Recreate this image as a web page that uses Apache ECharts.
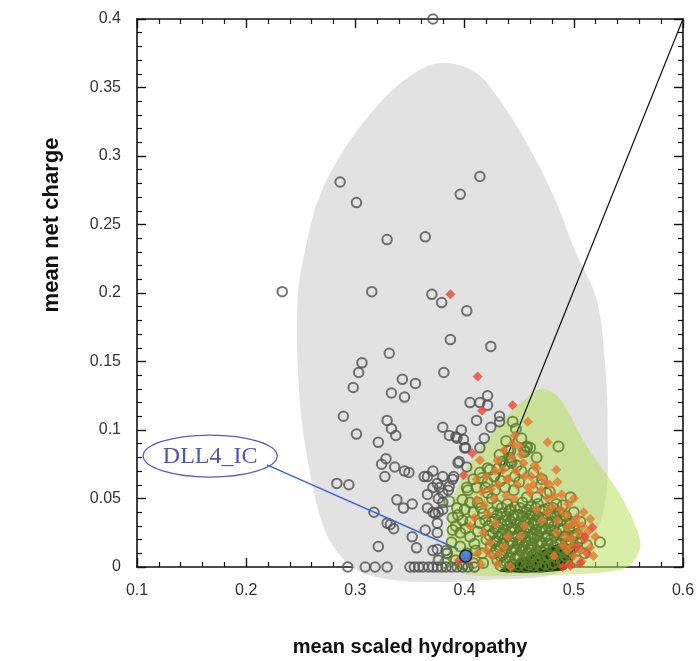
<!DOCTYPE html>
<html>
<head>
<meta charset="utf-8">
<script src="https://cdn.jsdelivr.net/npm/echarts@6/dist/echarts.min.js"></script>
<style>html,body{margin:0;padding:0;background:#fff}#c{width:700px;height:661px}</style>
</head>
<body>
<div id="c"></div>
<script>
// ---------- DATA ----------
const xTitle = 'mean scaled hydropathy';
const yTitle = 'mean net charge';
const annotationLabel = 'DLL4_IC';

// gray open circles [hydropathy, charge]
const grayPts = [
[0.371,0.400],[0.233,0.201],[0.286,0.281],[0.301,0.266],[0.329,0.239],[0.364,0.241],[0.315,0.201],[0.370,0.199],
[0.379,0.193],[0.414,0.285],[0.396,0.272],[0.402,0.187],[0.387,0.166],[0.424,0.161],[0.331,0.156],[0.306,0.149],
[0.303,0.142],[0.343,0.137],[0.355,0.134],[0.298,0.131],[0.333,0.127],[0.345,0.124],[0.381,0.142],[0.405,0.120],
[0.411,0.107],[0.289,0.110],[0.329,0.107],[0.333,0.101],[0.337,0.096],[0.301,0.097],[0.321,0.091],[0.380,0.102],
[0.386,0.096],[0.397,0.100],[0.392,0.095],[0.399,0.093],[0.400,0.087],[0.328,0.079],[0.324,0.075],[0.336,0.073],
[0.345,0.070],[0.349,0.069],[0.327,0.066],[0.363,0.066],[0.371,0.070],[0.375,0.061],[0.380,0.054],[0.386,0.059],
[0.390,0.066],[0.394,0.076],[0.283,0.061],[0.294,0.060],[0.366,0.053],[0.338,0.049],[0.344,0.043],[0.352,0.046],
[0.371,0.040],[0.376,0.040],[0.380,0.047],[0.317,0.040],[0.329,0.032],[0.332,0.031],[0.335,0.028],[0.375,0.032],
[0.375,0.025],[0.352,0.022],[0.356,0.014],[0.321,0.015],[0.375,0.013],[0.383,0.012],[0.421,0.125],[0.414,0.120],
[0.421,0.118],[0.432,0.110],[0.432,0.106],[0.393,0.094],[0.424,0.102],[0.418,0.094],[0.414,0.087],[0.395,0.077],
[0.402,0.073],[0.366,0.066],[0.380,0.066],[0.389,0.064],[0.371,0.058],[0.377,0.058],[0.385,0.056],[0.376,0.050],
[0.366,0.043],[0.373,0.039],[0.380,0.042],[0.364,0.027],[0.371,0.012],[0.376,0.005],[0.384,0.010],[0.401,0.087],
[0.293,0.000],[0.309,0.000],[0.318,0.000],[0.329,0.000],[0.350,0.000],[0.354,0.000],[0.358,0.000],[0.362,0.000],
[0.367,0.000],[0.371,0.000],[0.375,0.000],[0.379,0.000],[0.383,0.000],[0.388,0.000],[0.393,0.000],[0.398,0.000],
[0.403,0.000],[0.409,0.000]
];

// olive-green open circles
const greenPts = [
[0.444,0.106],[0.486,0.088],[0.457,0.088],[0.455,0.085],[0.460,0.087],[0.442,0.085],[0.441,0.080],[0.443,0.076],
[0.437,0.074],[0.448,0.074],[0.463,0.069],[0.471,0.064],[0.497,0.051],[0.475,0.054],[0.466,0.051],[0.457,0.051],
[0.512,0.016],[0.489,0.004],[0.524,0.018],[0.432,0.082],[0.440,0.085],[0.442,0.077],[0.435,0.077],[0.423,0.071],
[0.431,0.072],[0.416,0.065],[0.421,0.062],[0.403,0.056],[0.411,0.058],[0.421,0.054],[0.428,0.056],[0.398,0.049],
[0.405,0.047],[0.412,0.047],[0.393,0.043],[0.400,0.042],[0.408,0.040],[0.417,0.039],[0.389,0.036],[0.398,0.034],
[0.405,0.033],[0.414,0.032],[0.389,0.027],[0.396,0.025],[0.405,0.022],[0.412,0.026],[0.388,0.018],[0.396,0.015],
[0.402,0.010],[0.410,0.012],[0.384,0.010],[0.408,0.003],[0.417,0.003],[0.382,0.003],[0.414,0.069],[0.421,0.072],
[0.402,0.058],[0.408,0.064],[0.457,0.087],[0.455,0.084],
[0.430,0.045],[0.439,0.046],[0.446,0.044],[0.453,0.047],[0.461,0.044],[0.467,0.046],[0.477,0.043],[0.484,0.046],
[0.426,0.040],[0.433,0.039],[0.441,0.041],[0.449,0.038],[0.456,0.040],[0.462,0.039],[0.471,0.041],[0.479,0.038],[0.487,0.040],[0.493,0.037],
[0.428,0.035],[0.437,0.034],[0.444,0.036],[0.451,0.033],[0.458,0.035],[0.465,0.034],[0.472,0.036],[0.480,0.033],[0.488,0.034],[0.497,0.032],
[0.422,0.030],[0.431,0.029],[0.439,0.031],[0.446,0.028],[0.453,0.030],[0.459,0.029],[0.467,0.031],[0.474,0.028],[0.482,0.030],[0.490,0.027],[0.500,0.029],
[0.426,0.025],[0.434,0.024],[0.442,0.026],[0.448,0.023],[0.455,0.025],[0.462,0.024],[0.469,0.026],[0.476,0.023],[0.484,0.025],[0.493,0.022],[0.503,0.024],
[0.420,0.020],[0.429,0.019],[0.437,0.021],[0.444,0.018],[0.451,0.020],[0.458,0.019],[0.464,0.021],[0.471,0.018],[0.479,0.020],[0.488,0.017],[0.497,0.019],[0.507,0.021],
[0.424,0.015],[0.432,0.014],[0.440,0.016],[0.447,0.013],[0.454,0.015],[0.461,0.014],[0.467,0.016],[0.474,0.013],[0.482,0.015],[0.491,0.012],[0.500,0.014],
[0.427,0.010],[0.435,0.009],[0.443,0.011],[0.450,0.008],[0.457,0.010],[0.463,0.009],[0.470,0.011],[0.477,0.008],[0.486,0.010],[0.494,0.007],
[0.430,0.005],[0.438,0.004],[0.446,0.006],[0.452,0.003],[0.459,0.005],[0.466,0.004],[0.473,0.006],[0.481,0.003],[0.490,0.005],
[0.433,0.001],[0.441,0.000],[0.449,0.001],[0.456,0.000],[0.463,0.001],[0.470,0.000],[0.478,0.001],
[0.434,0.043],[0.442,0.042],[0.451,0.043],[0.457,0.042],[0.465,0.043],[0.473,0.042],[0.481,0.043],
[0.430,0.038],[0.438,0.037],[0.445,0.038],[0.453,0.037],[0.460,0.038],[0.467,0.037],[0.476,0.038],[0.483,0.037],[0.490,0.038],
[0.425,0.033],[0.433,0.032],[0.442,0.033],[0.448,0.032],[0.455,0.033],[0.463,0.032],[0.470,0.033],[0.477,0.032],[0.485,0.033],[0.494,0.032],
[0.428,0.028],[0.436,0.027],[0.443,0.028],[0.451,0.027],[0.457,0.028],[0.465,0.027],[0.471,0.028],[0.479,0.027],[0.487,0.028],[0.496,0.027],
[0.423,0.023],[0.431,0.022],[0.439,0.023],[0.446,0.022],[0.453,0.023],[0.460,0.022],[0.467,0.023],[0.474,0.022],[0.482,0.023],[0.490,0.022],[0.500,0.023],
[0.427,0.018],[0.435,0.017],[0.442,0.018],[0.449,0.017],[0.456,0.018],[0.462,0.017],[0.469,0.018],[0.476,0.017],[0.484,0.018],[0.493,0.017],[0.503,0.018],
[0.429,0.013],[0.437,0.012],[0.445,0.013],[0.452,0.012],[0.459,0.013],[0.466,0.012],[0.473,0.013],[0.480,0.012],[0.489,0.013],[0.497,0.012],
[0.433,0.008],[0.441,0.007],[0.448,0.008],[0.455,0.007],[0.462,0.008],[0.469,0.007],[0.476,0.008],[0.484,0.007],[0.492,0.008],
[0.436,0.003],[0.444,0.002],[0.452,0.003],[0.459,0.002],[0.466,0.003],[0.474,0.002],[0.482,0.003],
[0.425,0.050],[0.419,0.058],[0.427,0.066],[0.433,0.063],[0.437,0.058],[0.445,0.056],[0.450,0.062],[0.452,0.070],
[0.446,0.066],[0.392,0.030],[0.394,0.038],[0.401,0.028],[0.409,0.017],[0.416,0.010],[0.419,0.034],[0.415,0.043],
[0.392,0.005],[0.399,0.002],[0.386,0.048],[0.447,0.101],[0.452,0.094],[0.438,0.092],[0.466,0.080],[0.470,0.060],
[0.478,0.055],[0.490,0.045],[0.500,0.040],[0.506,0.033],[0.510,0.010],[0.503,0.005],[0.496,0.010]
];

// orange diamonds
const orangePts = [
[0.458,0.106],[0.446,0.096],[0.476,0.091],[0.464,0.074],[0.484,0.071],[0.485,0.062],[0.489,0.053],[0.499,0.032],
[0.452,0.082],[0.447,0.070],[0.455,0.066],[0.440,0.064],[0.448,0.060],[0.414,0.078],[0.430,0.078],[0.435,0.071],
[0.439,0.064],[0.411,0.064],[0.411,0.049],[0.421,0.039],[0.417,0.025],[0.412,0.010],[0.432,0.010],[0.442,0.000],
[0.451,0.022],[0.460,0.054],[0.466,0.042],[0.485,0.034],[0.494,0.029],[0.458,0.058],[0.463,0.060],[0.470,0.056],
[0.476,0.050],[0.480,0.044],[0.488,0.042],[0.493,0.038],[0.503,0.036],[0.508,0.030],[0.504,0.025],
[0.510,0.020],[0.513,0.026],[0.498,0.021],[0.506,0.012],[0.500,0.008],[0.494,0.012],[0.515,0.014],
[0.445,0.050],[0.438,0.052],[0.427,0.050],[0.424,0.057],[0.431,0.060],
[0.428,0.032],[0.423,0.018],[0.425,0.008],[0.436,0.015],
[0.484,0.025],[0.490,0.016],[0.482,0.008],[0.418,0.045],[0.416,0.055],
[0.404,0.006],[0.415,0.002],[0.470,0.066],[0.478,0.060],[0.466,0.072],[0.450,0.088],[0.444,0.090],[0.503,0.032],
[0.507,0.004],[0.496,0.002],
[0.515,0.035],[0.520,0.022],[0.518,0.008],[0.509,0.040],[0.495,0.046],[0.500,0.050],[0.482,0.052],[0.474,0.062],
[0.461,0.066],[0.454,0.076],[0.443,0.080],[0.436,0.085],[0.428,0.070],[0.420,0.066],
[0.440,0.022],[0.455,0.030],[0.471,0.034],[0.492,0.022],
[0.498,0.015],[0.405,0.030],[0.409,0.036],[0.420,0.012],[0.430,0.002],[0.476,0.040]
];

// red diamonds
const redPts = [
[0.387,0.199],[0.412,0.139],[0.416,0.114],[0.444,0.118],[0.407,0.083],[0.399,0.067],[0.517,0.029],[0.510,0.022],
[0.503,0.015],[0.512,0.010],[0.506,0.003],[0.497,0.001],[0.490,0.000],[0.395,0.005]
];

// highlighted protein
const dll4Pt = [[0.401,0.008]];

// boundary line
const boundaryLine = [[0.43,0.063],[0.6,0.4]];

// shaded regions (outline points)
const grayRegion = [
[0.380,0.368],[0.410,0.361],[0.432,0.341],[0.460,0.305],[0.483,0.268],[0.501,0.231],[0.521,0.195],[0.529,0.144],
[0.531,0.100],[0.529,0.049],[0.515,0.016],[0.487,-0.004],[0.432,-0.009],[0.359,-0.011],[0.313,-0.006],[0.290,0.005],
[0.272,0.027],[0.258,0.071],[0.249,0.122],[0.247,0.195],[0.254,0.231],[0.266,0.268],[0.289,0.304],[0.325,0.341],[0.355,0.361]
];
const greenRegion = [
[0.470,0.130],[0.487,0.123],[0.512,0.088],[0.540,0.056],[0.556,0.031],[0.561,0.015],[0.551,0.001],[0.524,-0.004],
[0.469,-0.006],[0.405,-0.006],[0.387,0.001],[0.384,0.020],[0.388,0.045],[0.402,0.073],[0.423,0.096],[0.452,0.120]
];
const darkWedge = [[0.432,-0.003],[0.490,0.018],[0.501,0.013],[0.492,-0.002]];

// annotation anchor points
const labelCenter = [0.167,0.081];
const arrowFrom = [0.219,0.0745];
const arrowTo = [0.394,0.013];

// ---------- CHART ----------
const chart = echarts.init(document.getElementById('c'), null, {renderer:'canvas'});
const font = "'Liberation Sans', Arial, sans-serif";

function regionSeries(pts, fill, z, smooth){
  return {
    type:'custom', z:z, silent:true, clip:false,
    data:[pts[0]],
    renderItem:function(params, api){
      return {type:'polygon', shape:{points:pts.map(p=>api.coord(p)), smooth:smooth},
        style:{fill:fill, stroke:'none'}};
    }
  };
}

const axisCommon = {
  type:'value',
  axisLine:{show:true, onZero:false, lineStyle:{color:'#111', width:1.6}},
  axisTick:{show:true, inside:true, length:9, lineStyle:{color:'#111', width:1.4}},
  minorTick:{show:true, splitNumber:5, length:5, lineStyle:{color:'#111', width:1.2}},
  splitLine:{show:false},
  minorSplitLine:{show:false}
};

const option = {
  animation:false,
  backgroundColor:'#fff',
  grid:{left:137, right:17, top:19, bottom:94},
  xAxis:[
    Object.assign({}, axisCommon, {min:0.1, max:0.6, interval:0.1, position:'bottom',
      axisLabel:{fontSize:16, color:'#333', fontFamily:font, margin:16}}),
    Object.assign({}, axisCommon, {min:0.1, max:0.6, interval:0.1, position:'top', axisLabel:{show:false}})
  ],
  yAxis:[
    Object.assign({}, axisCommon, {min:0, max:0.4, interval:0.05, position:'left',
      axisLabel:{fontSize:16, color:'#333', fontFamily:font, margin:16}}),
    Object.assign({}, axisCommon, {min:0, max:0.4, interval:0.05, position:'right', axisLabel:{show:false}})
  ],
  series:[
    regionSeries(grayRegion, '#e2e2e2', 1, 0.35),
    regionSeries(greenRegion, 'rgba(182,222,85,0.52)', 2, 0.3),
    {type:'line', z:3, data:boundaryLine, symbol:'none', silent:true,
      lineStyle:{color:'#111', width:1.2}},
    {type:'scatter', z:4, data:grayPts, symbol:'circle', symbolSize:9.5,
      itemStyle:{color:'rgba(0,0,0,0)', borderColor:'#505050', borderWidth:2}},
    {type:'scatter', z:5, data:greenPts, symbol:'circle', symbolSize:10,
      itemStyle:{color:'rgba(0,0,0,0)', borderColor:'#5a7b2b', borderWidth:2}},
    regionSeries(darkWedge, '#1f3a0b', 5, 0.2),
    {type:'scatter', z:6, data:orangePts, symbol:'diamond', symbolSize:10,
      itemStyle:{color:'#e27a30'}},
    {type:'scatter', z:7, data:redPts, symbol:'diamond', symbolSize:10,
      itemStyle:{color:'#e8473a'}},
    {type:'scatter', z:8, data:dll4Pt, symbol:'circle', symbolSize:12,
      itemStyle:{color:'#3a6df0', borderColor:'#111', borderWidth:1.5},
      markLine:{silent:true, symbol:['none','arrow'], symbolSize:[0,11], animation:false,
        label:{show:false}, lineStyle:{color:'#3d66d6', width:1.5, type:'solid'},
        data:[[{coord:arrowFrom},{coord:arrowTo}]]}},
    {type:'custom', z:9, silent:true, clip:false, data:[labelCenter],
      renderItem:function(params, api){
        const c = api.coord(labelCenter);
        return {type:'group', children:[
          {type:'ellipse', shape:{cx:c[0], cy:c[1], rx:67, ry:21},
            style:{fill:'rgba(255,255,255,0)', stroke:'#5a5ac8', lineWidth:1.3}},
          {type:'text', x:c[0], y:c[1]+1, style:{text:annotationLabel, fill:'#5252c0',
            font:"24px 'Liberation Serif', 'Times New Roman', serif", align:'center', verticalAlign:'middle'}}
        ]};
      }}
  ],
  graphic:[
    {type:'text', x:410, y:647, style:{text:xTitle, font:"bold 20px 'Liberation Sans', Arial, sans-serif",
      fill:'#111', align:'center', verticalAlign:'middle'}},
    {type:'text', x:52, y:225, rotation:Math.PI/2, style:{text:yTitle, font:"bold 22px 'Liberation Sans', Arial, sans-serif",
      fill:'#111', align:'center', verticalAlign:'middle'}}
  ]
};
chart.setOption(option);
</script>
</body>
</html>
